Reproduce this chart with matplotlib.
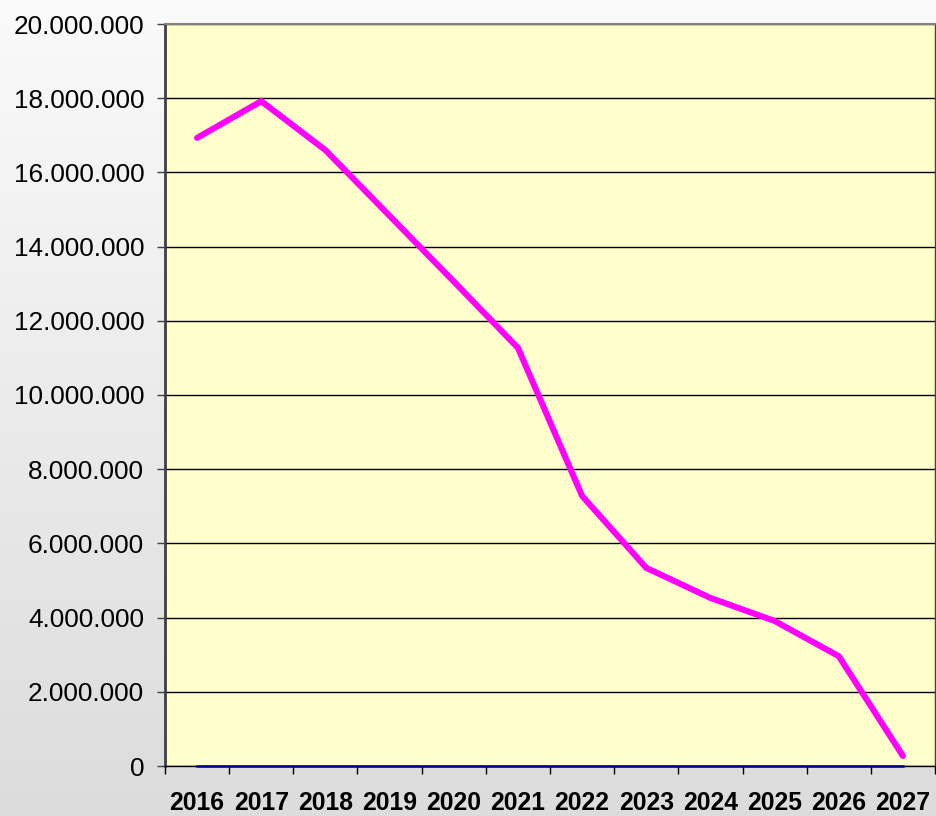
import numpy as np
import matplotlib
matplotlib.use("Agg")
import matplotlib.pyplot as plt
from matplotlib.ticker import FuncFormatter, FixedLocator

plt.rcParams['font.family'] = ['Liberation Sans', 'DejaVu Sans']

years = ["2016", "2017", "2018", "2019", "2020", "2021",
         "2022", "2023", "2024", "2025", "2026", "2027"]
values = [16930000, 17920000, 16600000, 14830000, 13060000, 11270000,
          7280000, 5340000, 4530000, 3910000, 2960000, 270000]
zeros = [0] * len(years)
y_ticks = [0, 2000000, 4000000, 6000000, 8000000, 10000000,
           12000000, 14000000, 16000000, 18000000, 20000000]

fig = plt.figure(figsize=(9.36, 8.16), dpi=100)

# background gradient (white at top, light gray at bottom)
bg = fig.add_axes([0, 0, 1, 1], zorder=-10)
grad = np.linspace(0, 1, 256).reshape(-1, 1)
bg.imshow(grad, aspect='auto', cmap=matplotlib.colors.LinearSegmentedColormap.from_list(
    "bg", ["#FAFAFA", "#DCDCDC"]), extent=[0, 1, 0, 1])
bg.axis('off')

ax = fig.add_axes([165 / 936, 50 / 816, 770 / 936, 742 / 816])
ax.set_facecolor("#FFFFCC")

x = np.arange(len(years))
ax.plot(x, zeros, color="#000080", linewidth=1.8, clip_on=False, zorder=3)
ax.plot(x, values, color="#FF00FF", linewidth=4.4, solid_capstyle='round',
        solid_joinstyle='miter', zorder=4)

ax.set_xlim(-0.5, len(years) - 0.5)
ax.set_ylim(0, 20000000)

ax.set_yticks(y_ticks)
ax.yaxis.set_major_formatter(FuncFormatter(lambda v, p: f"{int(v):,}".replace(",", ".")))
ax.grid(axis='y', color='black', linewidth=1.0)
ax.set_axisbelow(True)

ax.xaxis.set_major_locator(FixedLocator(np.arange(-0.5, len(years), 1.0)))
ax.xaxis.set_major_formatter(FuncFormatter(lambda v, p: ""))
ax.set_xticks(x, minor=True)
ax.set_xticklabels(years, minor=True, fontsize=17.8, fontweight='bold')
ax.tick_params(axis='x', which='major', length=6, width=1, color='black', direction='out')
ax.tick_params(axis='x', which='minor', length=0, pad=18)
ax.tick_params(axis='y', length=6, width=1, color='#404040', pad=9, labelsize=18.8)

ax.spines['top'].set_color('#808080')
ax.spines['top'].set_linewidth(1.5)
ax.spines['right'].set_color('#404040')
ax.spines['right'].set_linewidth(1.0)
ax.spines['left'].set_color('#404040')
ax.spines['left'].set_linewidth(2.0)
ax.spines['bottom'].set_color('black')
ax.spines['bottom'].set_linewidth(1.0)

fig.savefig("out.png", dpi=100)
